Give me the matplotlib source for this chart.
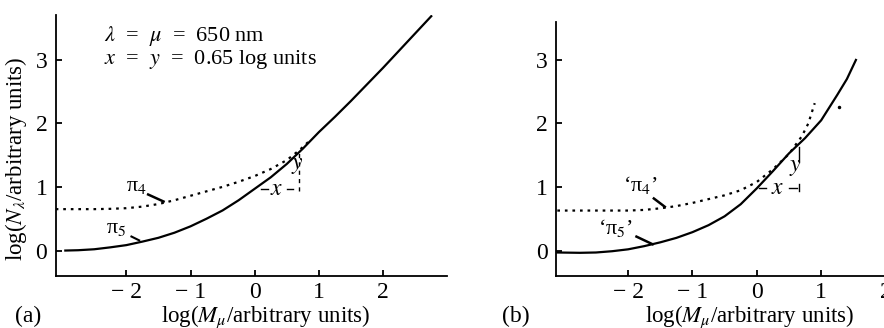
import matplotlib
import matplotlib.pyplot as plt

matplotlib.use("Agg")

plt.rcParams["font.family"] = ["Liberation Serif", "DejaVu Serif"]
plt.rcParams["mathtext.fontset"] = "stix"

# panel (a): pi5 (solid) and pi4 (dotted) curves
a_pi5_x = [-2.95, -2.75, -2.5, -2.25, -2.0, -1.75, -1.5, -1.25, -1.0, -0.75, -0.5, -0.25,
           0.0, 0.25, 0.5, 0.75, 1.0, 1.25, 1.5, 2.0, 2.5, 2.75]
a_pi5_y = [0.0, 0.005, 0.02, 0.05, 0.085, 0.14, 0.2, 0.28, 0.38, 0.5, 0.63, 0.79,
           0.97, 1.15, 1.36, 1.6, 1.86, 2.1, 2.35, 2.87, 3.41, 3.68]
a_pi4_x = [-3.1, -2.5, -2.25, -2.0, -1.75, -1.5, -1.25, -1.0, -0.75, -0.5, -0.25,
           0.0, 0.25, 0.5, 0.7, 0.85]
a_pi4_y = [0.65, 0.65, 0.655, 0.665, 0.69, 0.73, 0.79, 0.86, 0.93, 1.0, 1.08,
           1.17, 1.28, 1.42, 1.58, 1.72]

# panel (b): 'pi5' (solid) and 'pi4' (dotted)
b_pi5_x = [-3.1, -2.75, -2.5, -2.25, -2.0, -1.75, -1.5, -1.25, -1.0, -0.75, -0.5, -0.25,
           0.0, 0.25, 0.5, 0.75, 1.0, 1.25, 1.4, 1.54]
b_pi5_y = [-0.03, -0.035, -0.03, -0.01, 0.02, 0.07, 0.13, 0.2, 0.29, 0.4, 0.54, 0.73,
           0.98, 1.25, 1.53, 1.77, 2.05, 2.45, 2.7, 3.0]
b_pi4_x = [-3.1, -2.0, -1.75, -1.5, -1.25, -1.0, -0.75, -0.5, -0.25,
           0.0, 0.25, 0.5, 0.7, 0.8, 0.9]
b_pi4_y = [0.63, 0.63, 0.64, 0.665, 0.7, 0.75, 0.81, 0.87, 0.95,
           1.08, 1.28, 1.52, 1.8, 2.0, 2.32]
b_stray_x = [1.27]
b_stray_y = [2.26]

xticks = [-2, -1, 0, 1, 2]
xticklabels = ["\u2212 2", "\u2212 1", "0", "1", "2"]
yticks = [0, 1, 2, 3]

fig = plt.figure(figsize=(8.84, 3.28), dpi=100)
ax_a = fig.add_axes([0.063, 0.1585, 0.443, 0.796])
ax_b = fig.add_axes([0.629, 0.1585, 0.38, 0.775])


def style_axes(ax, xlim, ylim, label_x, label_y):
    ax.set_xlim(*xlim)
    ax.set_ylim(*ylim)
    for s in ["top", "right"]:
        ax.spines[s].set_visible(False)
    for s in ["left", "bottom"]:
        ax.spines[s].set_linewidth(1.3)
    ax.set_xticks(xticks)
    ax.set_yticks(yticks)
    ax.set_xticklabels(xticklabels)
    ax.tick_params(direction="in", length=4, width=1.3, labelsize=17, pad=6)
    ax.tick_params(axis="x", pad=4)
    ax.set_xlabel(r"log($M_\mu$/arbitrary units)", fontsize=16.5)
    ax.xaxis.set_label_coords(label_x, label_y)


style_axes(ax_a, (-3.1, 3.0), (-0.4, 3.7), 0.537, -0.107)
style_axes(ax_b, (-3.12, 2.1), (-0.4, 3.6), 0.575, -0.11)

ax_a.set_ylabel(r"log($N_\lambda$/arbitrary units)", fontsize=16.5)
ax_a.yaxis.set_label_coords(-0.068, 0.448)

dots = (0, (1.2, 2.2))
ax_a.plot(a_pi5_x, a_pi5_y, color="black", lw=1.6)
ax_a.plot(a_pi4_x, a_pi4_y, color="black", lw=1.6, linestyle=dots)
ax_b.plot(b_pi5_x, b_pi5_y, color="black", lw=1.6)
ax_b.plot(b_pi4_x, b_pi4_y, color="black", lw=1.6, linestyle=dots)
ax_b.plot(b_stray_x, b_stray_y, "o", ms=1.5, color="black")

# labels and leader lines, panel (a)
ax_a.text(-1.84, 1.0, "\u03c0$_4$", fontsize=16, ha="center", va="center")
ax_a.plot([-1.66, -1.42], [0.88, 0.77], color="black", lw=1.8)
ax_a.text(-2.15, 0.35, "\u03c0$_5$", fontsize=16, ha="center", va="center")
ax_a.plot([-1.92, -1.8], [0.22, 0.16], color="black", lw=1.5)

ax_a.plot([0.1, 0.2], [0.96, 0.96], color="black", lw=1.0)
ax_a.plot([0.5, 0.6], [0.96, 0.96], color="black", lw=1.0)
ax_a.text(0.34, 0.96, "$x$", fontsize=17, ha="center", va="center")
ax_a.plot([0.69, 0.69], [0.93, 1.53], color="black", lw=1.0, linestyle=(0, (3, 3)))
ax_a.text(0.67, 1.33, "$y$", fontsize=17, ha="center", va="center")

ax_a.text(-2.35, 3.37, r"$\lambda$  =  $\mu$  =  650 nm", fontsize=16, va="center")
ax_a.text(-2.35, 3.0, r"$x$  =  $y$  =  0.65 log units", fontsize=16, va="center")

# labels and leader lines, panel (b)
ax_b.text(-1.81, 1.04, "\u2018\u03c0$_4$\u2019", fontsize=16, ha="center", va="center")
ax_b.plot([-1.6, -1.43], [0.82, 0.69], color="black", lw=1.8)
ax_b.text(-2.2, 0.35, "\u2018\u03c0$_5$\u2019", fontsize=16, ha="center", va="center")
ax_b.plot([-1.87, -1.62], [0.22, 0.1], color="black", lw=1.8)

ax_b.plot([0.04, 0.14], [0.98, 0.98], color="black", lw=1.0)
ax_b.plot([0.5, 0.62], [0.98, 0.98], color="black", lw=1.0)
ax_b.text(0.32, 0.98, "$x$", fontsize=17, ha="center", va="center")
ax_b.plot([0.65, 0.65], [0.93, 1.05], color="black", lw=1.0)
ax_b.plot([0.65, 0.65], [1.4, 1.63], color="black", lw=1.0)
ax_b.text(0.6, 1.3, "$y$", fontsize=17, ha="center", va="center")

fig.text(0.017, 0.035, "(a)", fontsize=17, va="center")
fig.text(0.568, 0.035, "(b)", fontsize=17, va="center")

fig.savefig("out.png", dpi=100)
